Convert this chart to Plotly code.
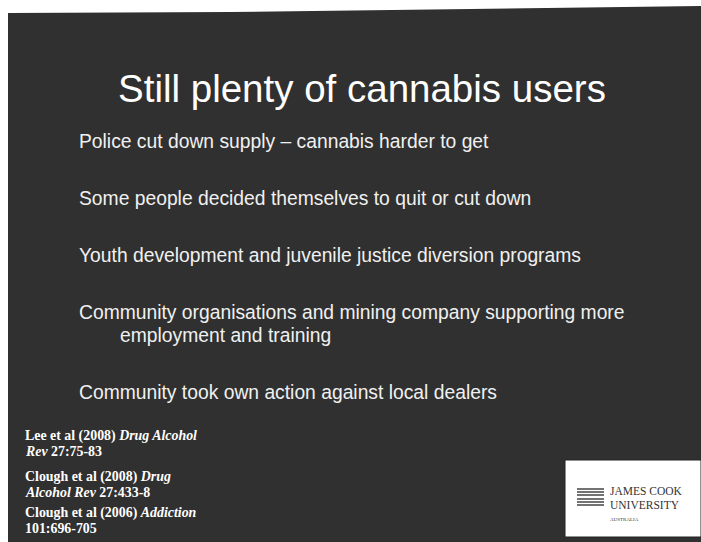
import plotly.graph_objects as go

W, H = 701, 542

title_text = "Still plenty of cannabis users"
bullet_lines = [
    "Police cut down supply – cannabis harder to get",
    "Some people decided themselves to quit or cut down",
    "Youth development and juvenile justice diversion programs",
    "Community organisations and mining company supporting more",
    "employment and training",
    "Community took own action against local dealers",
]
reference_lines = [
    "Lee et al (2008) <i>Drug Alcohol</i>",
    "<i>Rev</i> 27:75-83",
    "Clough et al (2008) <i>Drug</i>",
    "<i>Alcohol Rev</i> 27:433-8",
    "Clough et al (2006) <i>Addiction</i>",
    "101:696-705",
]
logo_lines = ["JAMES COOK", "UNIVERSITY", "AUSTRALIA"]

bullet_x = [77, 77, 77, 77, 118, 77]
bullet_y = [141, 198, 255, 312, 335, 392]
ref_y = [436, 451, 477, 492, 513, 528]
logo_y = [491, 505, 519]
logo_size = [11.5, 11.5, 5]

fig = go.Figure()
fig.add_trace(go.Scatter(x=[0, W], y=[0, H], mode="markers",
                         marker=dict(opacity=0), hoverinfo="skip", showlegend=False))

# slide background (dark)
fig.add_shape(type="path",
              path="M 8 13 L 230 12 L 701 6 L 701 542 L 8 542 Z",
              fillcolor="#303030", line=dict(width=0), layer="below")

# logo box
fig.add_shape(type="rect", x0=565, y0=460, x1=701, y1=537,
              fillcolor="white", line=dict(color="#222", width=1))
# emblem
for yy in [489, 492, 495, 499, 502, 505]:
    fig.add_shape(type="line", x0=577, x1=604, y0=yy, y1=yy,
                  line=dict(color="#444", width=1.5))

fig.add_annotation(x=362, y=88, text=title_text, showarrow=False,
                   font=dict(family="Liberation Sans, Arial", size=38.5, color="white"),
                   xanchor="center", yanchor="middle")

for t, xx, yy in zip(bullet_lines, bullet_x, bullet_y):
    fig.add_annotation(x=xx, y=yy, text=t, showarrow=False, align="left",
                       font=dict(family="Liberation Sans, Arial", size=19.3, color="#f0f0f0"),
                       xanchor="left", yanchor="middle")

for t, yy in zip(reference_lines, ref_y):
    fig.add_annotation(x=23, y=yy, text="<b>" + t + "</b>", showarrow=False, align="left",
                       font=dict(family="Liberation Serif, Times New Roman", size=13.9, color="white"),
                       xanchor="left", yanchor="middle")

for t, yy, sz in zip(logo_lines, logo_y, logo_size):
    fig.add_annotation(x=608, y=yy, text=t, showarrow=False,
                       font=dict(family="Liberation Serif", size=sz, color="#333"),
                       xanchor="left", yanchor="middle")

fig.update_layout(
    width=W, height=H, margin=dict(l=0, r=0, t=0, b=0),
    paper_bgcolor="white", plot_bgcolor="white",
    xaxis=dict(range=[0, W], visible=False, fixedrange=True),
    yaxis=dict(range=[H, 0], visible=False, fixedrange=True),
    showlegend=False,
)
fig.write_html("out.html", config={"displayModeBar": False},
               post_script="document.body.style.margin='0';document.body.style.overflow='hidden';")
